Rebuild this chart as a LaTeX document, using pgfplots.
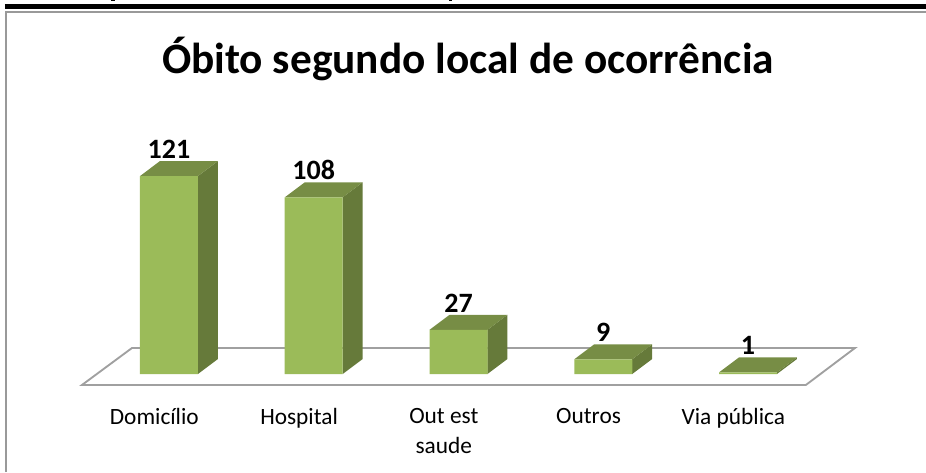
\documentclass[border=0pt]{standalone}
\usepackage{pgfplots}
\pgfplotsset{compat=1.18}
\usepackage{fontspec}
\setmainfont{Carlito}
\definecolor{barfront}{HTML}{9BBB59}
\definecolor{bartop}{HTML}{778D45}
\definecolor{barside}{HTML}{667A3A}
\definecolor{floorline}{HTML}{A0A0A0}
\definecolor{frameline}{HTML}{999999}
% px -> rel axis
\newcommand{\PX}[2]{(rel axis cs:{#1/926},{1-#2/472})}
% side and top faces of a bar: index, value
\newcommand{\barfaces}[2]{%
  \addplot[fill=barside,draw=none,forget plot] coordinates {({#1+0.2},0) ({#1+0.338},9.17) ({#1+0.338},{#2+9.17}) ({#1+0.2},#2)} -- cycle;
  \addplot[fill=bartop,draw=none,forget plot] coordinates {({#1-0.2},#2) ({#1+0.2},#2) ({#1+0.338},{#2+9.17}) ({#1-0.062},{#2+9.17})} -- cycle;
}
\begin{document}
\begin{tikzpicture}
\begin{axis}[
  scale only axis,
  width=694.5pt, height=354pt,
  xmin=-1.1675, xmax=5.2297,
  ymin=-59.9, ymax=228.6,
  axis x line=middle,
  axis y line=none,
  axis line style={draw=none},
  x axis line style={draw=none,-},
  xtick={0,1,2,3,4},
  xticklabels={Domicílio,Hospital,{Out est\\saude},Outros,Via pública},
  xtick style={draw=none},
  xticklabel style={align=center,anchor=north,yshift=-20pt,xshift=-11pt,font=\fontsize{17.5}{22.5}\selectfont},
  /pgf/number format/assume math mode=true,
  clip=false,
]
\draw[frameline,line width=1.1pt] \PX{6}{472} -- \PX{6}{12} -- \PX{926}{12};
\draw[black,line width=3.8pt] \PX{5}{6.5} -- \PX{926}{6.5};
\draw[black,line width=0.8pt] \PX{111}{0.8} -- \PX{115}{0.8};
\draw[black,line width=0.8pt] \PX{449}{0.8} -- \PX{452}{0.8};
\addplot[draw=floorline,line width=1.4pt,forget plot] coordinates {(-0.601,-6.7) (-0.2556,15.9) (4.739,15.9) (4.4,-6.7)} -- cycle;
\barfaces{0}{121}
\barfaces{1}{108}
\barfaces{2}{27}
\barfaces{3}{9}
\barfaces{4}{1}
\addplot[ybar,bar width=43.5pt,fill=barfront,draw=none,
  nodes near coords,
  nodes near coords style={anchor=south,yshift=9.5pt,font=\fontsize{21}{22}\selectfont\bfseries,text=black},
] coordinates {(0,121) (1,108) (2,27) (3,9) (4,1)};
\node[font=\fontsize{32.5}{36}\selectfont\bfseries,anchor=center] at \PX{468}{58.5} {Óbito segundo local de ocorrência};
\end{axis}
\pgfresetboundingbox
\path[use as bounding box] (current axis.south west) rectangle (current axis.north east);
\end{tikzpicture}
\end{document}
